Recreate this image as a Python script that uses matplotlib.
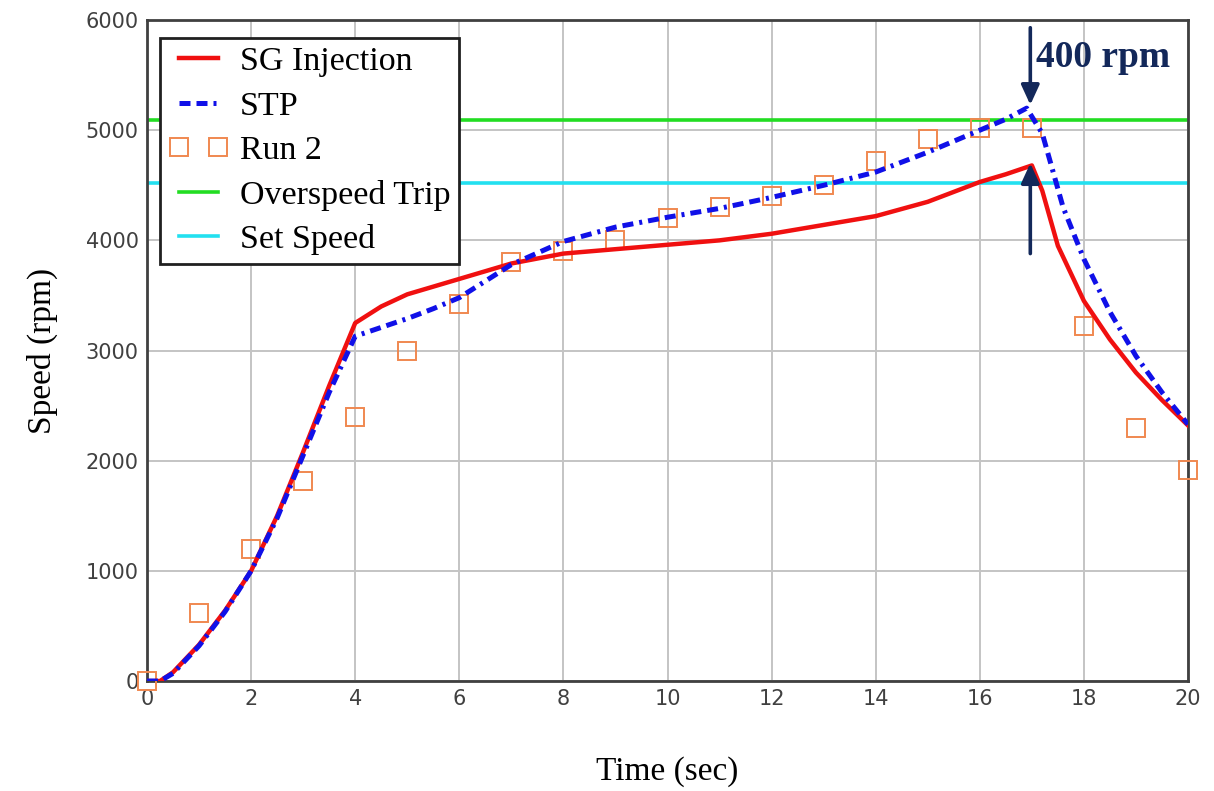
import numpy as np
import matplotlib
matplotlib.use('Agg')
import matplotlib.pyplot as plt

# ---- data ----
t_sg = [0, 0.25, 0.5, 1, 1.5, 2, 2.5, 3, 3.5, 4, 4.5, 5, 5.5, 6, 7, 8, 9, 10,
        11, 12, 13, 14, 15, 16, 16.5, 17, 17.2, 17.5, 18, 18.5, 19, 19.5, 20]
sg_injection = [0, 0, 80, 330, 640, 1000, 1500, 2080, 2680, 3250, 3400, 3510, 3580,
                3650, 3790, 3880, 3920, 3960, 4000, 4060, 4140, 4220, 4350, 4530,
                4600, 4680, 4450, 3950, 3450, 3100, 2800, 2550, 2320]

t_stp = [0, 0.25, 0.5, 1, 1.5, 2, 2.5, 3, 3.5, 4, 4.5, 5, 5.5, 6, 7, 8, 9, 10,
         11, 12, 13, 14, 15, 16, 16.5, 16.9, 17.2, 17.6, 18, 18.5, 19, 19.5, 20]
stp = [0, 0, 70, 320, 630, 1000, 1480, 2050, 2620, 3130, 3210, 3290, 3380, 3480,
       3780, 3990, 4120, 4210, 4290, 4390, 4500, 4620, 4800, 5000, 5100, 5200,
       4970, 4300, 3830, 3350, 2950, 2620, 2330]

t_run2 = list(range(0, 21))
run2 = [0, 620, 1200, 1820, 2400, 3000, 3420, 3800, 3900, 4000, 4200, 4300, 4400,
        4500, 4720, 4920, 5020, 5020, 3220, 2300, 1920]

overspeed_trip = 5090
set_speed = 4520

# ---- figure ----
fig = plt.figure(figsize=(12.14, 7.91), dpi=100)
ax = fig.add_axes([0.1211, 0.139, 0.8575, 0.8357])

ax.plot(t_sg, sg_injection, color='#f01010', lw=3.2, label='SG Injection', zorder=4)
ax.plot(t_stp, stp, color='#1010e8', lw=3.6, dashes=[2.2, 1.2, 2.2, 1.2, 0.6, 1.2],
        label='STP', zorder=5)
ax.plot(t_run2, run2, ls='none', marker='s', ms=13, mfc='none', mec='#f08850',
        mew=1.4, label='Run 2', zorder=3, clip_on=False)
ax.axhline(overspeed_trip, color='#22dd22', lw=2.6, label='Overspeed Trip', zorder=2)
ax.axhline(set_speed, color='#22e0f0', lw=2.6, label='Set Speed', zorder=2)

# arrows and annotation
navy = '#13285a'
ax.annotate('', xy=(16.97, 5230), xytext=(16.97, 5930),
            arrowprops=dict(arrowstyle='-|>,head_length=1.2,head_width=0.55',
                            color=navy, lw=2.6, shrinkA=0, shrinkB=0), zorder=6)
ax.annotate('', xy=(16.97, 4700), xytext=(16.97, 3880),
            arrowprops=dict(arrowstyle='-|>,head_length=1.2,head_width=0.55',
                            color=navy, lw=2.6, shrinkA=0, shrinkB=0), zorder=6)
ax.text(17.08, 5660, '400 rpm', color=navy, fontsize=27, fontweight='bold',
        family='Liberation Serif', va='center', ha='left', zorder=6)

ax.set_xlim(0, 20)
ax.set_ylim(0, 6000)
ax.set_xticks(np.arange(0, 21, 2))
ax.set_yticks(np.arange(0, 6001, 1000))
ax.grid(True, color='#c4c4c4', lw=1.4)
ax.set_axisbelow(True)
ax.tick_params(length=0, labelsize=15, labelcolor='#404040', pad=6)
for lab in ax.get_xticklabels() + ax.get_yticklabels():
    lab.set_family('DejaVu Sans')
for sp in ax.spines.values():
    sp.set_color('#404040')
    sp.set_linewidth(2)

ax.set_xlabel('Time (sec)', family='Liberation Serif', fontsize=24, labelpad=34)
ax.set_ylabel('Speed (rpm)', family='Liberation Serif', fontsize=24, labelpad=20)

leg = ax.legend(loc='upper left', bbox_to_anchor=(0.0125, 0.973), borderaxespad=0,
                prop={'family': 'Liberation Serif', 'size': 24.5}, numpoints=2,
                handlelength=1.75, handletextpad=0.35, borderpad=0.25,
                labelspacing=0.4, fancybox=False, framealpha=1)
leg.get_frame().set_edgecolor('#202020')
leg.get_frame().set_linewidth(2)

fig.savefig('out.png', dpi=100)
